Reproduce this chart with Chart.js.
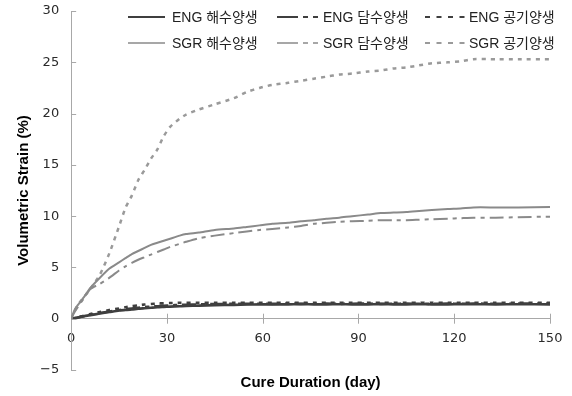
<!DOCTYPE html>
<html><head><meta charset="utf-8">
<script src="https://cdn.jsdelivr.net/npm/chart.js@4/dist/chart.umd.min.js"></script>
<style>html,body{margin:0;padding:0;background:#fff}#wrap{width:572px;height:396px}</style>
</head><body><div id="wrap"><canvas id="c" width="572" height="396"></canvas></div>
<script>
const days = [0,1,2,4,6,9,12,15,17,19,21,23,25,27,29,31,34,36,40,45,51,55,59,63,68,72,76,80,84,88,93,97,101,105,109,113,118,122,126,133,140,150];
const engSea   = [0,0.05,0.1,0.25,0.35,0.5,0.65,0.8,0.85,0.9,0.97,1.02,1.07,1.12,1.15,1.18,1.22,1.25,1.28,1.32,1.35,1.38,1.4,1.4,1.4,1.42,1.4,1.4,1.41,1.4,1.4,1.42,1.4,1.4,1.41,1.4,1.4,1.42,1.41,1.4,1.41,1.4];
const engFresh = [0,0.05,0.12,0.25,0.38,0.55,0.7,0.85,0.92,1.0,1.07,1.13,1.18,1.22,1.27,1.3,1.34,1.36,1.4,1.43,1.45,1.45,1.46,1.45,1.47,1.45,1.46,1.47,1.45,1.46,1.47,1.45,1.46,1.47,1.46,1.45,1.47,1.46,1.47,1.46,1.47,1.47];
const engAir   = [0,0.05,0.15,0.3,0.45,0.65,0.85,1.0,1.12,1.22,1.3,1.38,1.43,1.48,1.5,1.53,1.55,1.55,1.56,1.55,1.56,1.55,1.55,1.56,1.55,1.56,1.55,1.55,1.56,1.55,1.55,1.56,1.55,1.56,1.55,1.55,1.56,1.55,1.56,1.55,1.56,1.55];
const sgrSea   = [0,0.8,1.3,2.1,3.0,4.0,4.9,5.5,5.9,6.3,6.6,6.9,7.2,7.4,7.6,7.8,8.1,8.25,8.4,8.65,8.8,8.95,9.1,9.25,9.35,9.5,9.6,9.75,9.85,10.0,10.15,10.3,10.35,10.4,10.5,10.6,10.7,10.75,10.85,10.85,10.85,10.9];
const sgrFresh = [0,0.6,1.1,2.0,2.9,3.4,4.0,4.7,5.1,5.45,5.75,6.0,6.25,6.5,6.75,7.0,7.3,7.5,7.85,8.1,8.35,8.5,8.65,8.75,8.9,9.05,9.25,9.35,9.45,9.5,9.55,9.6,9.6,9.6,9.65,9.7,9.75,9.8,9.85,9.85,9.9,9.95];
const sgrAir   = [0,0.7,1.3,2.1,2.9,4.3,6.4,9.0,10.8,12.0,13.5,14.5,15.6,16.5,17.8,18.7,19.5,19.9,20.4,20.9,21.5,22.1,22.5,22.8,23.0,23.2,23.4,23.6,23.8,23.9,24.1,24.2,24.4,24.5,24.7,24.9,25.0,25.1,25.3,25.3,25.3,25.3];
const seriesLabels = ['ENG 해수양생','ENG 담수양생','ENG 공기양생','SGR 해수양생','SGR 담수양생','SGR 공기양생'];
const xTicks = [0,30,60,90,120,150];
const yTicks = [-5,0,5,10,15,20,25,30];

const FONT = "'Liberation Sans', 'Noto Sans CJK KR', Arial, sans-serif";
const TICKFONT = "'DejaVu Sans', 'Liberation Sans', sans-serif";
const DARK = '#3f3f3f', GRAY = '#8a8a8a', LGRAY = '#9a9a9a';
const styles = [
  {c: DARK, w: 2.6, d: [], lw: 2},
  {c: DARK, w: 2.6, d: [14,5,4,5], lw: 2},
  {c: DARK, w: 2.6, d: [4,5], lw: 2},
  {c: GRAY, w: 2, d: [], lw: 1.6},
  {c: GRAY, w: 2, d: [14,5,4,5], lw: 1.6},
  {c: LGRAY, w: 2.5, d: [4,5], lw: 1.8}
];
const allSeries = [engSea, engFresh, engAir, sgrSea, sgrFresh, sgrAir];
const datasets = allSeries.map((vals, i) => ({
  label: seriesLabels[i],
  data: days.map((d, j) => ({x: d, y: vals[j]})),
  borderColor: styles[i].c, borderWidth: styles[i].w, borderDash: styles[i].d,
  pointRadius: 0, fill: false, tension: 0.2
}));
const drawOrder = [3,4,5,0,1,2];

const tickPlugin = {
  id: 'ticksAndLegend',
  afterDraw(chart) {
    const ctx = chart.ctx, xs = chart.scales.x, ys = chart.scales.y;
    ctx.save();
    ctx.strokeStyle = '#a8a8a8'; ctx.lineWidth = 1;
    const y0 = ys.getPixelForValue(0), xl = xs.getPixelForValue(0);
    xTicks.forEach(v => { if (v === 0) return; const px = Math.round(xs.getPixelForValue(v)) + 0.5;
      ctx.beginPath(); ctx.moveTo(px, y0 - 5); ctx.lineTo(px, y0 + 5); ctx.stroke(); });
    yTicks.forEach(v => { const py = Math.round(ys.getPixelForValue(v)) + 0.5;
      ctx.beginPath(); ctx.moveTo(xl, py); ctx.lineTo(xl + 5, py); ctx.stroke(); });
    // legend
    const cols = [{s:128,e:165,t:172},{s:277,e:318,t:323},{s:425,e:465,t:469}];
    const rows = [17, 43];
    ctx.font = '14px ' + FONT; ctx.textBaseline = 'middle';
    for (let i = 0; i < 6; i++) {
      const col = cols[i % 3], row = rows[Math.floor(i / 3)], st = styles[i];
      ctx.fillStyle = '#fff';
      ctx.fillRect(col.s - 2, row - 9, (i%3===2?92:100) + (col.t - col.s), 18);
      ctx.strokeStyle = st.c; ctx.lineWidth = st.lw;
      ctx.setLineDash(i % 3 === 1 ? [21,5,5,5] : (i % 3 === 2 ? [5,6.5] : []));
      ctx.beginPath(); ctx.moveTo(col.s, row); ctx.lineTo(col.e, row); ctx.stroke();
      ctx.setLineDash([]);
      ctx.fillStyle = '#222'; ctx.fillText(seriesLabels[i], col.t, row + 1);
    }
    ctx.restore();
  }
};

new Chart(document.getElementById('c'), {
  type: 'line',
  data: {datasets: drawOrder.map(i => datasets[i])},
  options: {
    responsive: false, animation: false,
    layout: {padding: {top: 11, right: 22, left: 15, bottom: 0}},
    plugins: {
      legend: {display: false}, tooltip: {enabled: false},
      title: {display: true, position: 'bottom', fullSize: false, text: 'Cure Duration (day)',
        color: '#000', font: {family: FONT, size: 15, weight: 'bold'}, padding: {top: 4, bottom: 4}}
    },
    scales: {
      x: {type: 'linear', min: 0, max: 150, position: {y: 0},
        afterBuildTicks: s => { s.ticks = xTicks.map(v => ({value: v})); },
        afterFit: s => { s.paddingLeft = 0; s.paddingRight = 0; },
        grid: {display: false, drawTicks: false},
        border: {display: true, color: '#a8a8a8', width: 1},
        ticks: {color: '#2a2a2a', padding: 12, font: {family: TICKFONT, size: 13}, maxRotation: 0}
      },
      y: {type: 'linear', min: -5, max: 30,
        afterBuildTicks: s => { s.ticks = yTicks.map(v => ({value: v})); },
        afterFit: s => { s.paddingTop = 0; s.paddingBottom = 0; },
        grid: {display: false, drawTicks: false},
        border: {display: true, color: '#a8a8a8', width: 1},
        ticks: {color: '#2a2a2a', padding: 12, font: {family: TICKFONT, size: 13},
          callback: v => v < 0 ? '\u2212' + Math.abs(v) : String(v)},
        title: {display: true, text: 'Volumetric Strain (%)', color: '#000',
          font: {family: FONT, size: 15, weight: 'bold'}, padding: {top: 0, bottom: -5}}
      }
    }
  },
  plugins: [tickPlugin]
});
</script></body></html>
